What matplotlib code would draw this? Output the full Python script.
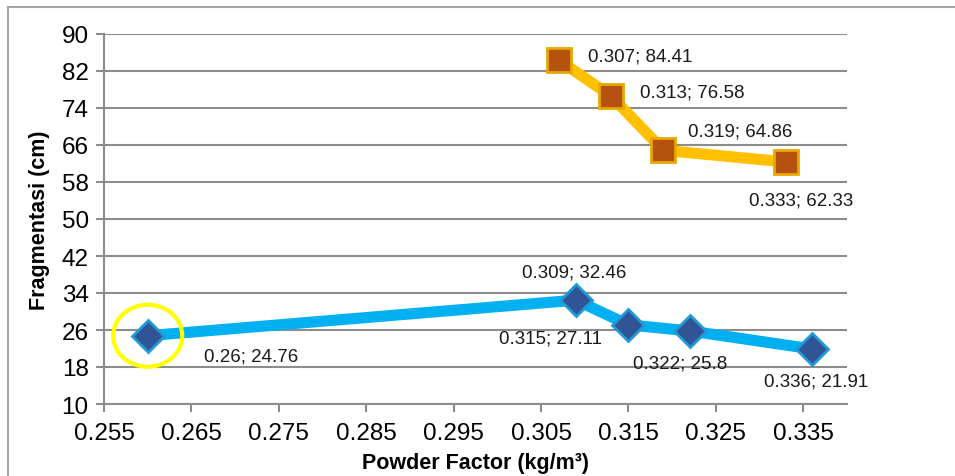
import matplotlib.pyplot as plt
from matplotlib.lines import Line2D
from matplotlib.patches import Ellipse

plt.rcParams['font.family'] = ['Liberation Sans', 'DejaVu Sans']

# data
pf_a = [0.26, 0.309, 0.315, 0.322, 0.336]
frag_a = [24.76, 32.46, 27.11, 25.8, 21.91]
pf_b = [0.307, 0.313, 0.319, 0.333]
frag_b = [84.41, 76.58, 64.86, 62.33]

x_ticks = [0.255, 0.265, 0.275, 0.285, 0.295, 0.305, 0.315, 0.325, 0.335]
y_ticks = [10, 18, 26, 34, 42, 50, 58, 66, 74, 82, 90]

# label offsets in pixels (dx, dy, ha)
offs_a = [(56, -20, 'left'), (-2, 28, 'center'), (-26, -13, 'right'),
          (-10, -32, 'center'), (4, -32, 'center')]
offs_b = [(29, 4, 'left'), (29, 4, 'left'), (25, 19, 'left'), (15, -38, 'center')]

fig = plt.figure(figsize=(9.55, 4.77), dpi=100)
ax = fig.add_axes([104 / 955, 1 - 405 / 477, 743 / 955, 370 / 477])

grid_c = '#8c8c8c'
ax.plot(pf_a, frag_a, color='#00B0F0', lw=8, solid_joinstyle='miter', zorder=3,
        marker='D', ms=16, mfc='#2F5597', mec='#1F9AD6', mew=2)
ax.plot(pf_b, frag_b, color='#FFC000', lw=8, solid_joinstyle='miter', zorder=3,
        marker='s', ms=17, mfc='#B5520F', mec='#E8A800', mew=2)

for x, y, (dx, dy, ha) in zip(pf_a, frag_a, offs_a):
    ax.annotate(f'{x:g}; {y:g}', (x, y), xytext=(dx, dy), textcoords='offset pixels',
                ha=ha, va='center', fontsize=13.5, color='#1a1a1a', zorder=5)
for x, y, (dx, dy, ha) in zip(pf_b, frag_b, offs_b):
    ax.annotate(f'{x:g}; {y:g}', (x, y), xytext=(dx, dy), textcoords='offset pixels',
                ha=ha, va='center', fontsize=13.5, color='#1a1a1a', zorder=5)

# yellow highlight around the first point
ax.add_patch(Ellipse((pf_a[0], frag_a[0]), width=0.0079, height=13.4, fill=False,
                     ec='#FFFF00', lw=3, zorder=4))

ax.set_xlim(0.255, 0.340)
ax.set_ylim(10, 90)
ax.set_xticks(x_ticks)
ax.set_xticklabels([f'{t:.3f}' for t in x_ticks])
ax.set_yticks(y_ticks)
ax.tick_params(axis='both', labelsize=17.5, color=grid_c, length=6, width=1.5,
               direction='out')
ax.tick_params(axis='x', pad=7)
ax.tick_params(axis='y', pad=5)
ax.grid(axis='y', color=grid_c, lw=1.5, zorder=0)
ax.set_axisbelow(True)
for s in ['top', 'right']:
    ax.spines[s].set_visible(False)
for s in ['left', 'bottom']:
    ax.spines[s].set_color(grid_c)
    ax.spines[s].set_linewidth(1.5)

ax.set_xlabel('Powder Factor (kg/m³)', fontsize=15.5, fontweight='bold', labelpad=6)
ax.set_ylabel('Fragmentasi (cm)', fontsize=15.5, fontweight='bold', labelpad=8)

# chart frame (top and left edges)
fig.add_artist(Line2D([8 / 955, 1], [1 - 8 / 477] * 2, color='#a6a6a6', lw=1.5))
fig.add_artist(Line2D([8 / 955] * 2, [0, 1 - 8 / 477], color='#a6a6a6', lw=1.5))

fig.savefig('out.png', dpi=100)
